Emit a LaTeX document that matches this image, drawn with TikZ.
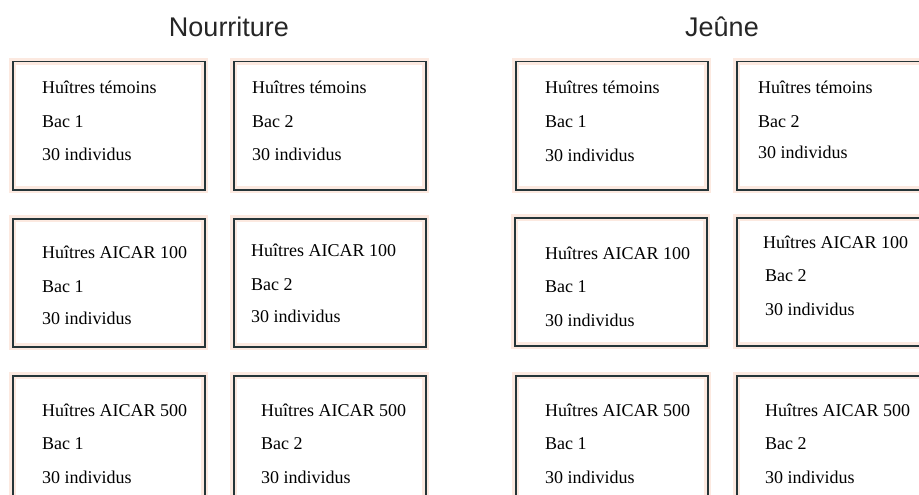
\documentclass[tikz,border=0pt]{standalone}
\usepackage{fontspec}
\setmainfont{Liberation Serif}
\newfontfamily\titlefont{Liberation Sans}
\definecolor{boxline}{HTML}{253538}
\definecolor{halo}{HTML}{FCE9E0}
\begin{document}
\begin{tikzpicture}[x=1pt,y=-1pt,
  box/.style={draw=boxline, line width=1.5pt, minimum width=192pt, minimum height=128pt,
    inner sep=0pt, anchor=north west, preaction={draw=halo, line width=7pt}},
  ttl/.style={font=\titlefont\fontsize{27}{32}\selectfont, text=black!85, inner sep=0pt, anchor=base},
  txt/.style={font=\fontsize{18}{20}\selectfont, anchor=base west, inner sep=0pt, text=black}]
\fill[white] (0,0) rectangle (919,495);
\useasboundingbox (0,0) rectangle (919,495);
\clip (0,0) rectangle (919,495);

\node[ttl] (tn) at (229,37) {Nourriture};
\node[ttl] (tj) at (722,37) {Jeûne};

% boxes
\node[box] (a1) at (12,61) {};
\node[box] (a2) at (233,61) {};
\node[box] (b1) at (12,218) {};
\node[box] (b2) at (233,218) {};
\node[box] (c1) at (12,375) {};
\node[box] (c2) at (233,375) {};
\node[box] (d1) at (515,61) {};
\node[box] (d2) at (736,61) {};
\node[box] (e1) at (514,217) {};
\node[box] (e2) at (736,217) {};
\node[box] (f1) at (515,375) {};
\node[box] (f2) at (736,375) {};

% texts
\node[txt] (a1t1) at (42,94) {Huîtres témoins};
\node[txt] (a1t2) at (42,128) {Bac 1};
\node[txt] (a1t3) at (42,160) {30 individus};
\node[txt] (a2t1) at (252,94) {Huîtres témoins};
\node[txt] (a2t2) at (252,128) {Bac 2};
\node[txt] (a2t3) at (252,160) {30 individus};

\node[txt] (b1t1) at (42,258) {Huîtres AICAR 100};
\node[txt] (b1t2) at (42,292) {Bac 1};
\node[txt] (b1t3) at (42,324) {30 individus};
\node[txt] (b2t1) at (251,256) {Huîtres AICAR 100};
\node[txt] (b2t2) at (251,290) {Bac 2};
\node[txt] (b2t3) at (251,322) {30 individus};

\node[txt] (c1t1) at (42,416) {Huîtres AICAR 500};
\node[txt] (c1t2) at (42,449) {Bac 1};
\node[txt] (c1t3) at (42,483) {30 individus};
\node[txt] (c2t1) at (261,416) {Huîtres AICAR 500};
\node[txt] (c2t2) at (261,449) {Bac 2};
\node[txt] (c2t3) at (261,483) {30 individus};

\node[txt] (d1t1) at (545,94) {Huîtres témoins};
\node[txt] (d1t2) at (545,128) {Bac 1};
\node[txt] (d1t3) at (545,161) {30 individus};
\node[txt] (d2t1) at (758,94) {Huîtres témoins};
\node[txt] (d2t2) at (758,127) {Bac 2};
\node[txt] (d2t3) at (758,158) {30 individus};

\node[txt] (e1t1) at (545,259) {Huîtres AICAR 100};
\node[txt] (e1t2) at (545,292) {Bac 1};
\node[txt] (e1t3) at (545,326) {30 individus};
\node[txt] (e2t1) at (763,248) {Huîtres AICAR 100};
\node[txt] (e2t2) at (765,281) {Bac 2};
\node[txt] (e2t3) at (765,315) {30 individus};

\node[txt] (f1t1) at (545,416) {Huîtres AICAR 500};
\node[txt] (f1t2) at (545,449) {Bac 1};
\node[txt] (f1t3) at (545,483) {30 individus};
\node[txt] (f2t1) at (765,416) {Huîtres AICAR 500};
\node[txt] (f2t2) at (765,449) {Bac 2};
\node[txt] (f2t3) at (765,483) {30 individus};
\end{tikzpicture}
\end{document}
